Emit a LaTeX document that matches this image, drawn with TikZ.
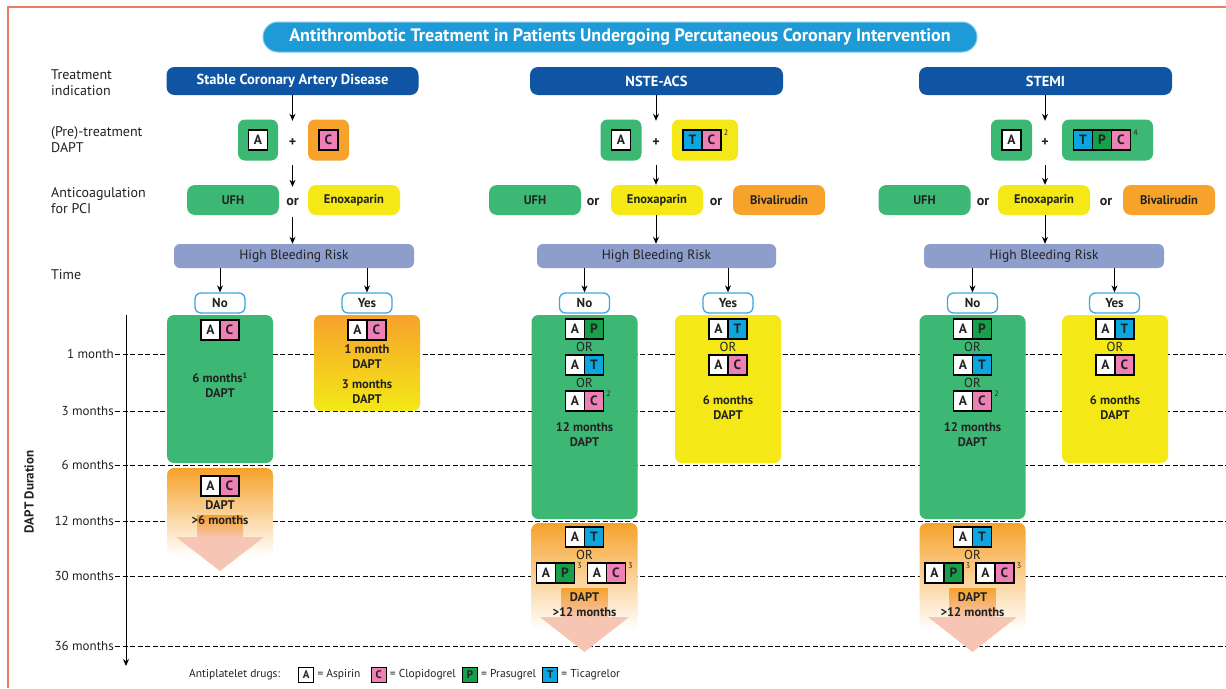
\documentclass[tikz,border=0pt]{standalone}
\usepackage{fontspec}
\setmainfont{PT Sans}
\usetikzlibrary{arrows.meta}
\definecolor{ttlblue}{HTML}{1E9AD6}
\definecolor{hdrblue}{HTML}{0F55A4}
\definecolor{grn}{HTML}{3DB874}
\definecolor{yel}{HTML}{F4E916}
\definecolor{orng}{HTML}{F6A22B}
\definecolor{lav}{HTML}{8D9ECD}
\definecolor{pnk}{HTML}{EE80B6}
\definecolor{tcyan}{HTML}{0BA5DF}
\definecolor{pgrn}{HTML}{17A04A}
\definecolor{nyblue}{HTML}{3DA8DF}
\definecolor{framec}{HTML}{EE7B5F}
\definecolor{salm}{HTML}{F6C5B3}
\definecolor{ink}{HTML}{222222}
\newcommand\myfs[2]{\fontsize{#1}{#2}\selectfont}
\newcommand\drugpair[5]{%
  \node[sq,fill=white] (#1a) at (#2-9.5,#3) {A};
  \node[sq,fill=#5] (#1b) at (#2+9.5,#3) {#4};}
\tikzset{
  every node/.style={text=ink},
  rowlab/.style={anchor=west, align=left, font=\myfs{14}{16}, inner sep=0pt},
  hdr/.style={fill=hdrblue, rounded corners=8pt, minimum height=28pt, text=white, font=\bfseries\myfs{14.5}{16}},
  ttl/.style={fill=ttlblue, draw=ttlblue!55, line width=1pt, rounded corners=15pt, minimum width=714pt, minimum height=30pt, text=white, font=\bfseries\myfs{18}{20}},
  prebox/.style={rounded corners=7pt, minimum width=41pt, minimum height=41pt},
  sq/.style={draw=black, line width=1.2pt, minimum width=19pt, minimum height=20pt, inner sep=0pt, font=\bfseries\myfs{13.5}{13.5}},
  conn/.style={font=\bfseries\myfs{14}{14}, inner sep=0pt, minimum height=30pt},
  acbox/.style={rounded corners=8pt, minimum height=30pt, minimum width=92pt, font=\bfseries\myfs{12.5}{14}},
  hbr/.style={fill=lav, rounded corners=6pt, minimum height=24pt, font=\myfs{13.5}{15}},
  ny/.style={draw=nyblue, line width=1.3pt, fill=white, rounded corners=6pt, minimum width=50pt, minimum height=20pt, inner sep=0pt, font=\bfseries\myfs{13}{14}},
  dbox/.style={rounded corners=7pt, minimum width=106pt, inner sep=0pt},
  ctext/.style={align=center, font=\bfseries\myfs{12.5}{15}, inner sep=0pt},
  ortext/.style={font=\myfs{13}{13}, inner sep=0pt},
  supn/.style={font=\myfs{8}{8}, inner sep=0pt},
  mlab/.style={anchor=east, font=\myfs{13}{15}, inner sep=1pt},
  dline/.style={dash pattern=on 5pt off 2.5pt, line width=0.9pt},
  arr/.style={-{Stealth[length=7pt,width=6pt]}, line width=1pt},
  lsq/.style={draw=black, line width=1pt, minimum size=15pt, inner sep=0pt, font=\bfseries\myfs{11}{11}},
  leg/.style={anchor=west, font=\myfs{11.5}{13}, inner sep=0pt}
}
\begin{document}
\begin{tikzpicture}[x=1pt,y=-1pt]
\useasboundingbox (0,0) rectangle (1226,688);
\fill[white] (0,0) rectangle (1226,688);
\coordinate (redge) at (1226,0);
% frame (cut off at right and bottom)
\draw[framec, line width=1.5pt] (8,688) -- (8,7) -- (1226,7);

% title
\node[ttl] (title) at (620,37) {Antithrombotic Treatment in Patients Undergoing Percutaneous Coronary Intervention};

% row labels
\node[rowlab] (rl1) at (51,83) {Treatment\\indication};
\node[rowlab] (rl2) at (51,140) {(Pre)-treatment\\DAPT};
\node[rowlab] (rl3) at (51,201) {Anticoagulation\\for PCI};
\node[rowlab] (rl4) at (51,275) {Time};

% time axis labels and dashed lines
\node[mlab] (m1) at (115,354) {1 month};
\node[mlab] (m3) at (115,411) {3 months};
\node[mlab] (m6) at (115,465) {6 months};
\node[mlab] (m12) at (115,521) {12 months};
\node[mlab] (m30) at (115,576) {30 months};
\node[mlab] (m36) at (115,646) {36 months};
\foreach \m in {m1,m3,m6,m12,m30,m36} {\draw[dline] (\m.east) -- (\m.east -| redge);}
\coordinate (axtop) at (126,315);
\coordinate (axbot) at (126,666);
\draw[arr] (axtop) -- (axbot);
\node[rotate=90, font=\bfseries\myfs{13}{15}, inner sep=0pt] (dd) at (29,492) {DAPT Duration};

% headers
\node[hdr, minimum width=252pt] (h1) at (292.5,81) {Stable Coronary Artery Disease};
\node[hdr, minimum width=253pt] (h2) at (656.5,81) {NSTE-ACS};
\node[hdr, minimum width=253pt] (h3) at (1045.5,81) {STEMI};

% pre-treatment
\node[prebox, fill=grn, minimum width=40pt] (pa1) at (258,140) {};
\node[sq, fill=white] (sa1) at (pa1) {A};
\node[conn, minimum height=44pt] (pl1) at (292.5,143) {+};
\node[prebox, fill=orng] (pc1) at (328.5,140) {};
\node[sq, fill=pnk] (sc1) at (pc1) {C};

\node[prebox, fill=grn] (pa2) at (621,140) {};
\node[sq, fill=white] (sa2) at (pa2) {A};
\node[conn, minimum height=44pt] (pl2) at (656,143) {+};
\node[prebox, fill=yel, minimum width=66pt] (pc2) at (705,140) {};
\node[sq, fill=tcyan] (st2) at (692.5,140) {T};
\node[sq, fill=pnk] (sc2) at (711.5,140) {C};
\node[supn, anchor=north west, xshift=2pt] (sup2a) at (sc2.north east) {2};

\node[prebox, fill=grn] (pa3) at (1011.5,140) {};
\node[sq, fill=white] (sa3) at (pa3) {A};
\node[conn, minimum height=44pt] (pl3) at (1045,143) {+};
\node[prebox, fill=grn, minimum width=91pt] (pc3) at (1107.5,140) {};
\node[sq, fill=tcyan] (st3) at (1083,140) {T};
\node[sq, fill=pgrn] (sp3) at (1102,140) {P};
\node[sq, fill=pnk] (sc3) at (1121,140) {C};
\node[supn, anchor=north west, xshift=2pt] (sup4) at (sc3.north east) {4};

% anticoagulation
\node[acbox, fill=grn] (u1) at (233,200) {UFH};
\node[conn] (or1) at (292.5,202) {or};
\node[acbox, fill=yel] (e1) at (354,200) {Enoxaparin};

\node[acbox, fill=grn] (u2) at (535,200) {UFH};
\node[conn] (or2a) at (593,202) {or};
\node[acbox, fill=yel] (e2) at (657,200) {Enoxaparin};
\node[conn] (or2b) at (716,202) {or};
\node[acbox, fill=orng] (b2) at (779,200) {Bivalirudin};

\node[acbox, fill=grn] (u3) at (924.5,200) {UFH};
\node[conn] (or3a) at (983,202) {or};
\node[acbox, fill=yel] (e3) at (1044,200) {Enoxaparin};
\node[conn] (or3b) at (1106,202) {or};
\node[acbox, fill=orng] (b3) at (1169,200) {Bivalirudin};

% high bleeding risk
\node[hbr, minimum width=240pt] (r1) at (294,256) {High Bleeding Risk};
\node[hbr, minimum width=239pt] (r2) at (656.5,256) {High Bleeding Risk};
\node[hbr, minimum width=240pt] (r3) at (1044,256) {High Bleeding Risk};

% arrows top
\draw[arr] (h1.south -| pl1) -- (pl1.north);
\draw[arr] (pl1.south) -- (or1.north);
\draw[arr] (or1.south) -- (r1.north -| or1);
\draw[arr] (h2.south -| pl2) -- (pl2.north);
\draw[arr] (pl2.south) -- (e2.north -| pl2);
\draw[arr] (e2.south -| pl2) -- (r2.north -| pl2);
\draw[arr] (h3.south -| pl3) -- (pl3.north);
\draw[arr] (pl3.south) -- (e3.north -| pl3);
\draw[arr] (e3.south -| pl3) -- (r3.north -| pl3);

% no / yes
\node[ny] (no1) at (220,303) {No};
\node[ny] (yes1) at (367,303) {Yes};
\node[ny] (no2) at (584.5,303) {No};
\node[ny] (yes2) at (728,303) {Yes};
\node[ny] (no3) at (972.5,303) {No};
\node[ny] (yes3) at (1114.5,303) {Yes};
\foreach \n/\r in {no1/r1,yes1/r1,no2/r2,yes2/r2,no3/r3,yes3/r3} {\draw[arr] (\n |- \r.south) -- (\n.north);}

% ---------- duration boxes ----------
% column 1
\node[dbox, fill=grn, minimum height=148pt] (g1) at (220,389) {};
\node[dbox, top color=orng, bottom color=yel, minimum height=96pt] (y1) at (367,363) {};
\node[dbox, top color=orng, middle color=orng, bottom color=white, minimum height=88pt] (o1) at (220,512) {};
\shade[top color=orng, bottom color=salm] (197,515) rectangle (243,537.5);
\fill[salm] (176,537) -- (264,537) -- (220,571) -- cycle;

% column 2
\node[dbox, fill=grn, minimum height=204pt] (g2) at (584.5,417) {};
\node[dbox, fill=yel, minimum height=148pt] (y2) at (728,389) {};
\node[dbox, top color=orng, middle color=orng, bottom color=white, minimum height=107pt] (o2) at (584.5,576.5) {};
\shade[top color=orng, bottom color=salm] (561.5,588) rectangle (607.5,617.5);
\fill[salm] (540,617) -- (629,617) -- (584.5,652) -- cycle;

% column 3
\node[dbox, fill=grn, minimum height=204pt] (g3) at (972.5,417) {};
\node[dbox, fill=yel, minimum height=148pt] (y3) at (1115,389) {};
\node[dbox, top color=orng, middle color=orng, bottom color=white, minimum height=107pt] (o3) at (972.5,576.5) {};
\shade[top color=orng, bottom color=salm] (949.5,588) rectangle (995.5,617.5);
\fill[salm] (928,617) -- (1017,617) -- (972.5,652) -- cycle;

% contents column 1
\drugpair{n1}{220}{330}{C}{pnk}
\node[ctext] (t1) at (220,385) {6 months\textsuperscript{\myfs{8}{8}1}\\DAPT};
\drugpair{y1p}{367}{330}{C}{pnk}
\node[ctext] (t2) at (367,357) {1 month\\DAPT};
\node[ctext] (t3) at (367,392) {3 months\\DAPT};
\drugpair{o1p}{220}{486}{C}{pnk}
\node[ctext] (t4) at (220,512.5) {DAPT\\>6 months};

% contents column 2
\drugpair{n2p}{584.5}{329}{P}{pgrn}
\node[ortext] (o2x) at (584.5,347) {OR};
\drugpair{n2t}{584.5}{365}{T}{tcyan}
\node[ortext] (o2y) at (584.5,383) {OR};
\drugpair{n2c}{584.5}{401}{C}{pnk}
\node[supn, anchor=north west, xshift=2pt] at (n2cb.north east) {2};
\node[ctext] (t5) at (584.5,435) {12 months\\DAPT};
\drugpair{y2t}{728}{329}{T}{tcyan}
\node[ortext] (o2z) at (728,347) {OR};
\drugpair{y2c}{728}{365}{C}{pnk}
\node[ctext] (t6) at (728,408) {6 months\\DAPT};
\drugpair{x2t}{584.5}{537}{T}{tcyan}
\node[ortext] (o2w) at (584.5,555) {OR};
\drugpair{x2p}{555.5}{573}{P}{pgrn}
\node[supn, anchor=north west, xshift=2pt] at (x2pb.north east) {3};
\drugpair{x2c}{606.5}{573}{C}{pnk}
\node[supn, anchor=north west, xshift=2pt] at (x2cb.north east) {3};
\node[ctext] (t7) at (584.5,604.5) {DAPT\\>12 months};

% contents column 3
\drugpair{n3p}{972.5}{329}{P}{pgrn}
\node[ortext] (o3x) at (972.5,347) {OR};
\drugpair{n3t}{972.5}{365}{T}{tcyan}
\node[ortext] (o3y) at (972.5,383) {OR};
\drugpair{n3c}{972.5}{401}{C}{pnk}
\node[supn, anchor=north west, xshift=2pt] at (n3cb.north east) {2};
\node[ctext] (t8) at (972.5,435) {12 months\\DAPT};
\drugpair{y3t}{1115}{329}{T}{tcyan}
\node[ortext] (o3z) at (1115,347) {OR};
\drugpair{y3c}{1115}{365}{C}{pnk}
\node[ctext] (t9) at (1115,408) {6 months\\DAPT};
\drugpair{x3t}{972.5}{537}{T}{tcyan}
\node[ortext] (o3w) at (972.5,555) {OR};
\drugpair{x3p}{944}{573}{P}{pgrn}
\node[supn, anchor=north west, xshift=2pt] at (x3pb.north east) {3};
\drugpair{x3c}{995}{573}{C}{pnk}
\node[supn, anchor=north west, xshift=2pt] at (x3cb.north east) {3};
\node[ctext] (t10) at (972.5,604.5) {DAPT\\>12 months};

% legend
\node[leg] (lg) at (189,675) {Antiplatelet drugs:};
\node[lsq, fill=white, anchor=west, xshift=18pt] (la) at (lg.east) {A};
\node[leg, xshift=3pt] (lga) at (la.east) {= Aspirin};
\node[lsq, fill=pnk, anchor=west, xshift=10pt] (lc) at (lga.east) {C};
\node[leg, xshift=3pt] (lgc) at (lc.east) {= Clopidogrel};
\node[lsq, fill=pgrn, anchor=west, xshift=6pt] (lp) at (lgc.east) {P};
\node[leg, xshift=3pt] (lgp) at (lp.east) {= Prasugrel};
\node[lsq, fill=tcyan, anchor=west, xshift=6pt] (lt) at (lgp.east) {T};
\node[leg, xshift=3pt] (lgt) at (lt.east) {= Ticagrelor};
\end{tikzpicture}
\end{document}
